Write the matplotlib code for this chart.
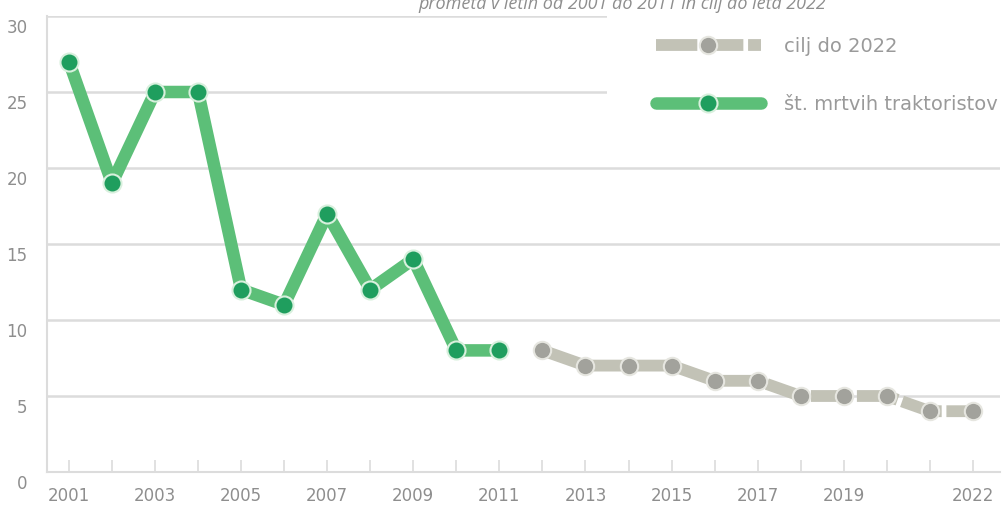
import matplotlib
matplotlib.use("Agg")
import matplotlib.pyplot as plt
import matplotlib.transforms as mtransforms

years_actual = [2001, 2002, 2003, 2004, 2005, 2006, 2007, 2008, 2009, 2010, 2011]
deaths = [27, 19, 25, 25, 12, 11, 17, 12, 14, 8, 8]

years_goal = [2012, 2013, 2014, 2015, 2016, 2017, 2018, 2019, 2020, 2021, 2022]
goal = [8, 7, 7, 7, 6, 6, 5, 5, 5, 4, 4]

label_years = [2001, 2003, 2005, 2007, 2009, 2011, 2013, 2015, 2017, 2019, 2022]
y_ticks = [0, 5, 10, 15, 20, 25, 30]

title = "prometa v letih od 2001 do 2011 in cilj do leta 2022"

plt.rcParams['font.family'] = ['DejaVu Sans']

W, H = 1003, 505
fig = plt.figure(figsize=(W / 100, H / 100), dpi=100)
ax = fig.add_axes([47 / W, (H - 472) / H, (1000 - 47) / W, (472 - 16) / H])

green_line = '#5cbf78'
green_dot = '#1f9e5e'
grey_line = '#c2c2b6'
grey_dot = '#a2a29c'
grid_c = '#dcdcdc'
text_c = '#8e8e8e'

ax.set_xlim(2000.49, 2022.63)
ax.set_ylim(0, 30)

ax.plot(years_goal, goal, color=grey_line, lw=8.5, linestyle=(0, (3.5, 0.4)),
        solid_capstyle='round', dash_capstyle='butt', dash_joinstyle='round',
        marker='o', ms=12.5, mfc=grey_dot, mec='#e6e6e0', mew=1.5, zorder=3,
        label='cilj do 2022')
ax.plot(years_actual, deaths, color=green_line, lw=9, solid_joinstyle='round',
        solid_capstyle='round', marker='o', ms=13, mfc=green_dot, mec='#d8f0dd',
        mew=1.5, zorder=4, label='št. mrtvih traktoristov')

# grid and spines
ax.set_yticks(y_ticks)
ax.yaxis.grid(True, color=grid_c, lw=1.8)
ax.set_axisbelow(True)
for s in ['top', 'right']:
    ax.spines[s].set_visible(False)
for s in ['left', 'bottom']:
    ax.spines[s].set_color(grid_c)
    ax.spines[s].set_linewidth(1.5)

ax.set_xticks(range(2001, 2023))
ax.set_xticklabels([str(y) if y in label_years else '' for y in range(2001, 2023)])
ax.tick_params(axis='x', direction='in', length=9, width=1.2, color=grid_c,
               labelsize=12, labelcolor=text_c, pad=11)
ax.tick_params(axis='y', length=0, labelsize=12, labelcolor=text_c, pad=14)
offset = mtransforms.ScaledTranslation(0, -10 / 100, fig.dpi_scale_trans)
for lab in ax.get_yticklabels():
    lab.set_transform(lab.get_transform() + offset)

h, l = ax.get_legend_handles_labels()
leg = ax.legend(h, l, loc='upper left', bbox_to_anchor=(607 / W, 1 + 12 / H),
                bbox_transform=fig.transFigure,
                frameon=True, facecolor='white', edgecolor='none', framealpha=1,
                fontsize=14, handlelength=5.4, handletextpad=1.2, labelspacing=2.0,
                borderpad=2.5, borderaxespad=0, numpoints=1)
for t in leg.get_texts():
    t.set_color('#9a9a9a')
leg.set_zorder(5)

fig.text(622 / W, 1 - 9 / H, title, ha='center', va='baseline', fontsize=13,
         style='italic', color=text_c, family=['Open Sans', 'DejaVu Sans'])

fig.savefig('out.png', dpi=100, facecolor='white')
